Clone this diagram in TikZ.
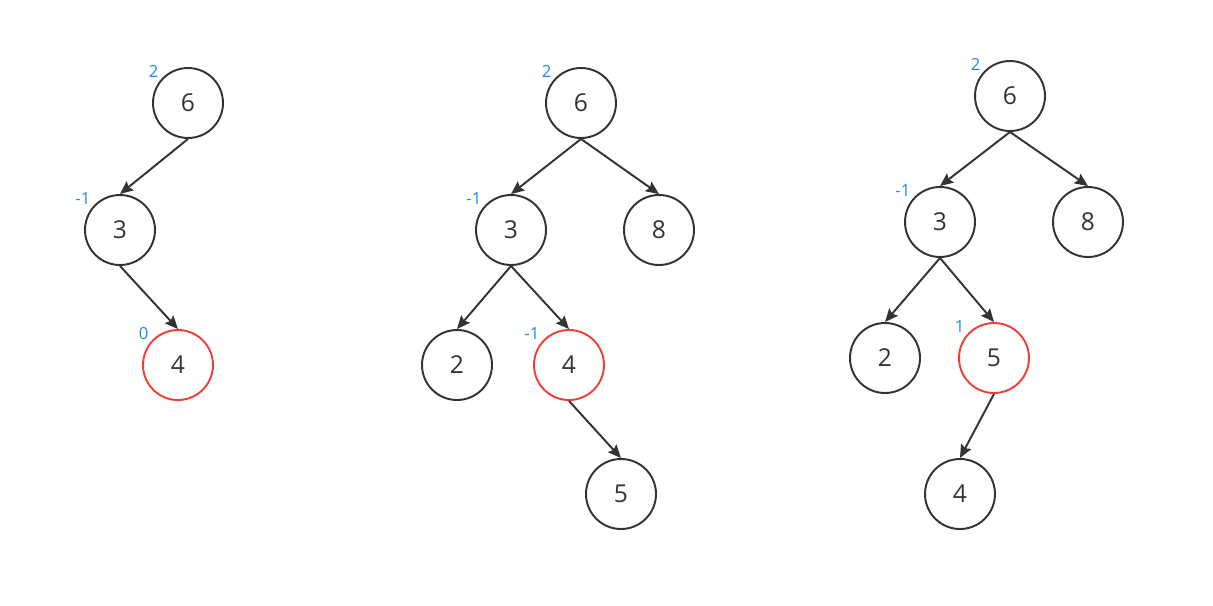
\documentclass[tikz,border=0pt]{standalone}
\usepackage{fontspec}
\setmainfont{Open Sans}
\usetikzlibrary{positioning,arrows.meta}
\definecolor{ink}{RGB}{51,51,51}
\definecolor{hot}{RGB}{238,64,54}
\definecolor{balblue}{RGB}{30,140,240}
\tikzset{
  nd/.style={draw=#1, circle, line width=1.1pt, minimum size=1.4cm, inner sep=0pt, text=ink, font=\fontsize{14}{16}\selectfont},
  nd/.default={ink},
  bal/.style={text=balblue, font=\fontsize{9.5}{11}\selectfont, inner sep=1pt},
  arrow/.style={-{Stealth[length=7.5pt, width=6.5pt, inset=1.2pt]}, line width=1.1pt, draw=ink}
}
\begin{document}
\begin{tikzpicture}[x=0.02cm, y=-0.02cm]
  \useasboundingbox (0,0) rectangle (1213,605);
  % first tree
  \node[nd, label={[bal, label distance=0pt]140:2}] (a6) at (188,103) {6};
  \node[nd, label={[bal, label distance=0pt]140:-1}] (a3) at (120,230) {3};
  \node[nd=hot, label={[bal, label distance=0pt]140:0}] (a4) at (178,365) {4};
  \draw[arrow] (a6.south) -- (a3.north);
  \draw[arrow] (a3.south) -- (a4.north);
  % second tree
  \node[nd, label={[bal, label distance=0pt]140:2}] (b6) at (581,103) {6};
  \node[nd, label={[bal, label distance=0pt]140:-1}] (b3) at (511,230) {3};
  \node[nd] (b8) at (659,230) {8};
  \node[nd] (b2) at (457,365) {2};
  \node[nd=hot, label={[bal, label distance=0pt]140:-1}] (b4) at (569,365) {4};
  \node[nd] (b5) at (621,494) {5};
  \draw[arrow] (b6.south) -- (b3.north);
  \draw[arrow] (b6.south) -- (b8.north);
  \draw[arrow] (b3.south) -- (b2.north);
  \draw[arrow] (b3.south) -- (b4.north);
  \draw[arrow] (b4.south) -- (b5.north);
  % third tree
  \node[nd, label={[bal, label distance=0pt]140:2}] (c6) at (1010,96) {6};
  \node[nd, label={[bal, label distance=0pt]140:-1}] (c3) at (940,222) {3};
  \node[nd] (c8) at (1088,222) {8};
  \node[nd] (c2) at (885,358) {2};
  \node[nd=hot, label={[bal, label distance=0pt]140:1}] (c5) at (994,358) {5};
  \node[nd] (c4) at (960,494) {4};
  \draw[arrow] (c6.south) -- (c3.north);
  \draw[arrow] (c6.south) -- (c8.north);
  \draw[arrow] (c3.south) -- (c2.north);
  \draw[arrow] (c3.south) -- (c5.north);
  \draw[arrow] (c5.south) -- (c4.north);
\end{tikzpicture}
\end{document}
